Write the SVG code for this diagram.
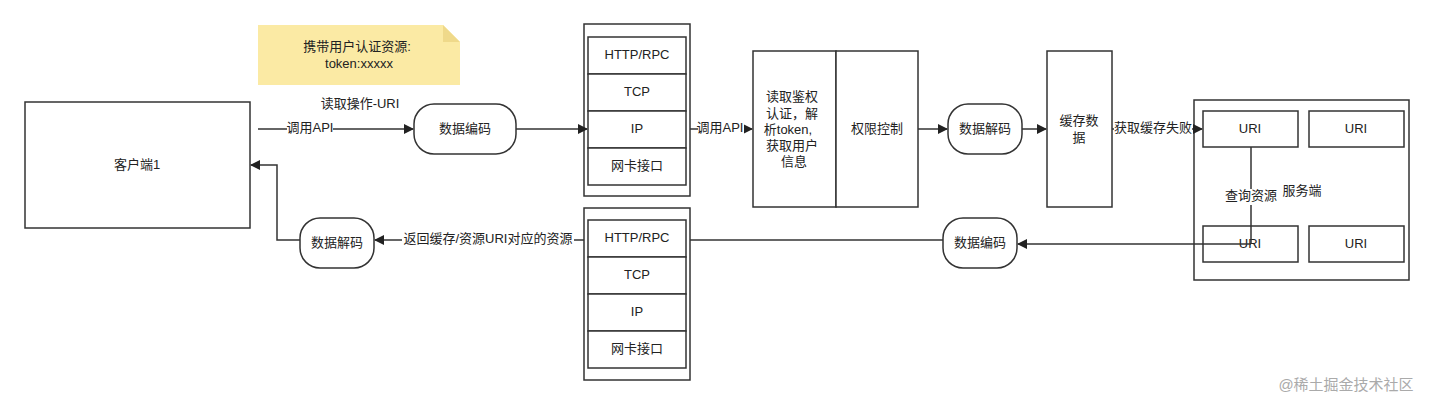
<svg xmlns="http://www.w3.org/2000/svg" width="1435" height="404" viewBox="0 0 1435 404">
<style>
text{font-family:"Liberation Sans","Noto Sans CJK SC",sans-serif;font-size:13px;fill:#222;text-anchor:middle;dominant-baseline:middle}
.b{fill:#fff;stroke:#333;stroke-width:1.5}
.l{fill:none;stroke:#333;stroke-width:1.5}
.lb{fill:#fff;stroke:none}
</style>
<defs><marker id="a" markerWidth="10" markerHeight="10" refX="9" refY="5" orient="auto" markerUnits="userSpaceOnUse"><path d="M0,0L10,5L0,10z" fill="#222"/></marker></defs>
<rect width="1435" height="404" fill="#fff"/>
<g id="note"><path d="M258,25H443L460,42V85H258z" fill="#fbeaa4"/><path d="M443,25V42H460" fill="#efd98a"/><text x="357" y="48">携带用户认证资源:</text><text x="359" y="65">token:xxxxx</text></g>
<g id="client"><rect class="b" x="25" y="102" width="225" height="126"/><text x="137" y="166">客户端1</text></g>
<g id="enc1"><rect class="b" x="414" y="104" width="102" height="50" rx="20"/><text x="465" y="130">数据编码</text></g>
<g id="stack1"><rect class="b" x="584" y="24" width="106" height="172"/>
<rect class="b" x="588" y="37" width="98" height="37"/><text x="637" y="56">HTTP/RPC</text>
<rect class="b" x="588" y="74" width="98" height="37"/><text x="637" y="93">TCP</text>
<rect class="b" x="588" y="111" width="98" height="37"/><text x="637" y="130">IP</text>
<rect class="b" x="588" y="148" width="98" height="37"/><text x="637" y="167">网卡接口</text></g>
<g id="auth"><rect class="b" x="753" y="51" width="83" height="156"/><text x="792" y="98">读取鉴权</text><text x="792" y="115">认证，解</text><text x="788" y="131">析token,</text><text x="792" y="147">获取用户</text><text x="794" y="163">信息</text></g>
<g id="perm"><rect class="b" x="836" y="51" width="82" height="156"/><text x="877" y="130">权限控制</text></g>
<g id="dec1"><rect class="b" x="948" y="104" width="74" height="50" rx="20"/><text x="985" y="130">数据解码</text></g>
<g id="cache"><rect class="b" x="1047" y="51" width="65" height="156"/><text x="1079" y="122">缓存数</text><text x="1079" y="139">据</text></g>
<g id="server"><rect class="b" x="1194" y="100" width="215" height="180"/><text x="1302" y="192">服务端</text>
<rect class="b" x="1203" y="111" width="95" height="36"/><text x="1250" y="130">URI</text>
<rect class="b" x="1309" y="111" width="95" height="36"/><text x="1356" y="130">URI</text>
<rect class="b" x="1203" y="226" width="95" height="36"/><text x="1250" y="245">URI</text>
<rect class="b" x="1309" y="226" width="95" height="36"/><text x="1356" y="245">URI</text></g>
<g id="enc2"><rect class="b" x="943" y="218" width="74" height="50" rx="20"/><text x="980" y="244">数据编码</text></g>
<g id="stack2"><rect class="b" x="584" y="208" width="106" height="172"/>
<rect class="b" x="588" y="220" width="98" height="37"/><text x="637" y="239">HTTP/RPC</text>
<rect class="b" x="588" y="257" width="98" height="37"/><text x="637" y="276">TCP</text>
<rect class="b" x="588" y="294" width="98" height="37"/><text x="637" y="313">IP</text>
<rect class="b" x="588" y="331" width="98" height="37"/><text x="637" y="350">网卡接口</text></g>
<g id="dec2"><rect class="b" x="300" y="218" width="74" height="50" rx="20"/><text x="337" y="244">数据解码</text></g>
<g id="connectors">
<path class="l" d="M258,129H413" marker-end="url(#a)"/><rect class="lb" x="287" y="121" width="46" height="16"/><text x="310" y="129">调用API</text>
<text x="360" y="105">读取操作-URI</text>
<path class="l" d="M516,129H587" marker-end="url(#a)"/>
<path class="l" d="M690,129H752" marker-end="url(#a)"/><rect class="lb" x="698" y="121" width="46" height="16"/><text x="720" y="129">调用API</text>
<path class="l" d="M918,129H947" marker-end="url(#a)"/>
<path class="l" d="M1022,129H1046" marker-end="url(#a)"/>
<path class="l" d="M1112,129H1202" marker-end="url(#a)"/><rect class="lb" x="1114" y="121" width="78" height="16"/><text x="1153" y="129">获取缓存失败</text>
<path class="l" d="M1251,147V244"/><rect class="lb" x="1222" y="189" width="58" height="16"/><text x="1251" y="197">查询资源</text>
<path class="l" d="M1251,244H1018" marker-end="url(#a)"/>
<path class="l" d="M943,240H690"/>
<path class="l" d="M584,240H375" marker-end="url(#a)"/><rect class="lb" x="402" y="232" width="172" height="16"/><text x="488" y="240">返回缓存/资源URI对应的资源</text>
<path class="l" d="M300,240H277V165H251" marker-end="url(#a)"/>
</g>
<text x="1346" y="386" style="fill:#aaa;font-size:15px">@稀土掘金技术社区</text>
</svg>
